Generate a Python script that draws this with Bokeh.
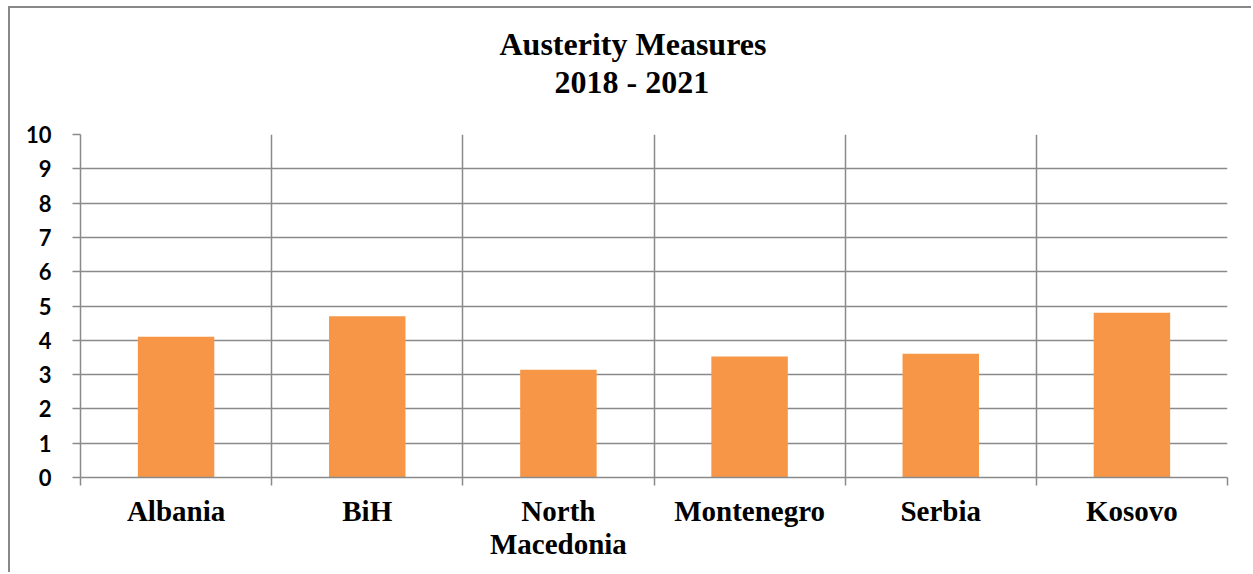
from bokeh.plotting import figure
from bokeh.models import FixedTicker, Range1d, Title, ColumnDataSource
from bokeh.embed import file_html
from bokeh.resources import INLINE

# ---- data ----
countries = ["Albania", "BiH", "North\nMacedonia", "Montenegro", "Serbia", "Kosovo"]
values = [4.1, 4.7, 3.14, 3.53, 3.61, 4.8]
y_ticks = [0, 1, 2, 3, 4, 5, 6, 7, 8, 9, 10]
title_line1 = "Austerity Measures"
title_line2 = "2018 - 2021"

centers = [i + 0.5 for i in range(len(countries))]
bounds = list(range(len(countries) + 1))

source = ColumnDataSource(dict(x=centers, value=values, name=countries))

GRID = "#8a8a8a"

p = figure(
    width=1243, height=566,
    x_range=Range1d(0, len(countries)), y_range=Range1d(y_ticks[0], y_ticks[-1]),
    output_backend="svg", toolbar_location=None, title=None,
    min_border_left=70, min_border_right=26, min_border_bottom=97, min_border_top=126,
)
p.styles = {"margin-left": "8px", "margin-top": "6px",
            "border-left": "2px solid #888888", "border-top": "2px solid #888888"}

p.vbar(x="x", top="value", width=0.4, source=source,
       fill_color="#F79646", line_color=None)

# titles, closest to the frame first: spacer, line 2, line 1
spacer = Title(text=" ", text_font="Liberation Serif", text_font_size="20px", standoff=11)
t2 = Title(text=title_line2, align="left", offset=474,
           text_font="Liberation Serif", text_font_style="bold",
           text_font_size="32px", text_color="black", standoff=0)
t1 = Title(text=title_line1, align="left", offset=419,
           text_font="Liberation Serif", text_font_style="bold",
           text_font_size="32px", text_color="black", standoff=0)
p.add_layout(spacer, "above")
p.add_layout(t2, "above")
p.add_layout(t1, "above")

# x axis
xa = p.xaxis[0]
xa.ticker = FixedTicker(ticks=centers, minor_ticks=bounds)
xa.major_label_overrides = {c: n for c, n in zip(centers, countries)}
xa.major_tick_out = 0
xa.major_tick_in = 0
xa.minor_tick_out = 8
xa.minor_tick_in = 0
xa.minor_tick_line_color = GRID
xa.minor_tick_line_width = 1.5
xa.axis_line_color = GRID
xa.axis_line_width = 1.5
xa.major_label_text_font = "Liberation Serif"
xa.major_label_text_font_style = "bold"
xa.major_label_text_font_size = "29px"
xa.major_label_text_color = "black"
xa.major_label_text_line_height = 1.05
xa.major_label_standoff = 9

# y axis
ya = p.yaxis[0]
ya.ticker = FixedTicker(ticks=y_ticks)
ya.major_tick_out = 8
ya.major_tick_in = 0
ya.minor_tick_out = 0
ya.minor_tick_in = 0
ya.major_tick_line_color = GRID
ya.major_tick_line_width = 1.5
ya.axis_line_color = GRID
ya.axis_line_width = 1.5
ya.major_label_text_font = "Lato"
ya.major_label_text_font_style = "bold"
ya.major_label_text_font_size = "22px"
ya.major_label_text_color = "black"
ya.major_label_standoff = 21

# grids
p.xgrid.ticker = FixedTicker(ticks=bounds)
p.ygrid.ticker = FixedTicker(ticks=y_ticks)
for g in (p.xgrid[0], p.ygrid[0]):
    g.grid_line_color = GRID
    g.grid_line_width = 1.5

p.outline_line_color = None
p.background_fill_color = "white"
p.border_fill_color = "white"

open("out.html", "w").write(file_html(p, INLINE))
